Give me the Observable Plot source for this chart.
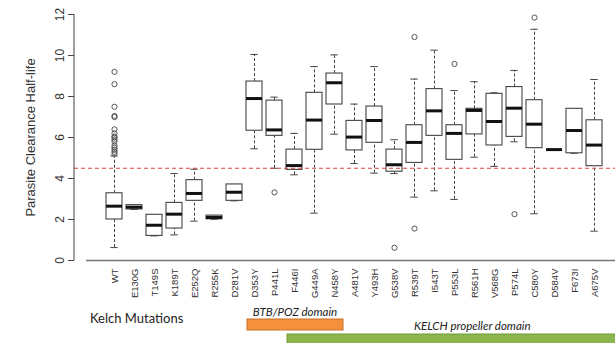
<!DOCTYPE html>
<html><head><meta charset="utf-8">
<script src="https://cdn.jsdelivr.net/npm/d3@7"></script>
<script src="https://cdn.jsdelivr.net/npm/@observablehq/plot@0.6"></script>
<style>
html,body{margin:0;padding:0;background:#fff}
#chart svg{display:block}
</style>
</head><body><div id="chart"></div>
<script>
const categories = ["WT","E130G","T149S","K189T","E252Q","R255K","D281V","D353Y","P441L","F446I","G449A","N458Y","A481V","Y493H","G538V","R539T","I543T","P553L","R561H","V568G","P574L","C580Y","D584V","F673I","A675V"];
const q1 =          [2.0, 2.49, 1.2, 1.56, 2.91, 2.01, 2.91, 6.33, 6.08, 4.42, 5.40, 7.61, 5.37, 5.74, 4.33, 4.76, 6.08, 4.91, 6.15, 5.61, 6.03, 5.48, 5.41, 5.23, 4.6];
const medians =     [2.65, 2.6, 1.72, 2.26, 3.27, 2.1, 3.33, 7.9, 6.37, 4.63, 6.85, 8.67, 6.02, 6.83, 4.67, 5.76, 7.3, 6.2, 7.32, 6.78, 7.43, 6.65, 5.41, 6.34, 5.63];
const q3 =          [3.28, 2.70, 2.23, 2.81, 3.92, 2.19, 3.71, 8.73, 7.80, 5.41, 8.18, 9.12, 6.81, 7.51, 5.41, 6.6, 8.36, 6.6, 7.4, 8.13, 8.46, 7.82, 5.41, 7.4, 6.84];
const whiskerLow =  [0.63, 2.49, 1.2, 1.25, 1.92, 2.01, 2.91, 5.45, 4.5, 4.18, 2.31, 6.16, 4.73, 4.26, 4.24, 3.09, 3.4, 2.98, 5.04, 4.59, 5.79, 2.28, 5.41, 5.23, 1.43];
const whiskerHigh = [5.1, 2.70, 2.23, 4.24, 4.45, 2.19, 3.71, 10.05, 7.97, 6.2, 9.46, 10.03, 7.63, 9.46, 5.89, 8.85, 10.26, 8.29, 8.72, 8.18, 9.27, 11.28, 5.41, 7.4, 8.83];
const outlierCategories = ["WT","WT","WT","WT","WT","WT","WT","WT","WT","WT","WT","WT","WT","WT","WT","WT","P441L","G538V","R539T","R539T","P553L","P574L","C580Y"];
const outlierValues =     [5.2, 5.3, 5.4, 5.5, 5.6, 5.8, 5.9, 6.0, 6.05, 6.2, 6.4, 7.0, 7.05, 7.5, 8.6, 9.2, 3.32, 0.62, 10.9, 1.56, 9.59, 2.26, 11.85];
const yTicks = [0, 2, 4, 6, 8, 10, 12];
const threshold = 4.5;
const yLabel = "Parasite Clearance Half-life";
const groupLabel = "Kelch Mutations";
const domainNames = ["BTB/POZ domain", "KELCH propeller domain"];
const domainFrom = ["D353Y", "F446I"];
const domainTo = ["N458Y", "A675V"];
const domainLabelAt = ["D353Y", "R539T"];

const boxes = categories.map((c, i) => ({cat: c, q1: q1[i], med: medians[i], q3: q3[i], lo: whiskerLow[i], hi: whiskerHigh[i]}));
const outliers = outlierCategories.map((c, i) => ({cat: c, value: outlierValues[i]}));

const W = 615, H = 343;
const plot = Plot.plot({
  width: W, height: H,
  marginLeft: 74, marginRight: 0, marginTop: 14, marginBottom: 83,
  style: {fontFamily: "'Liberation Sans', Arial, sans-serif", background: "#fff", color: "#333"},
  x: {domain: categories, type: "band", range: [95.6, 613.4], paddingInner: 0.2, paddingOuter: 0.1},
  y: {domain: [0, 12]},
  marks: [
    Plot.ruleX(boxes, {x: "cat", y1: "q3", y2: "hi", stroke: "#444", strokeDasharray: "3,2", strokeWidth: 1}),
    Plot.ruleX(boxes, {x: "cat", y1: "lo", y2: "q1", stroke: "#444", strokeDasharray: "3,2", strokeWidth: 1}),
    Plot.tickY(boxes, {x: "cat", y: "hi", stroke: "#444", strokeWidth: 1, insetLeft: 4.3, insetRight: 4.3}),
    Plot.tickY(boxes, {x: "cat", y: "lo", stroke: "#444", strokeWidth: 1, insetLeft: 4.3, insetRight: 4.3}),
    Plot.barY(boxes, {x: "cat", y1: "q1", y2: "q3", fill: "white", stroke: "#444", strokeWidth: 1.1}),
    Plot.tickY(boxes, {x: "cat", y: "med", stroke: "#111", strokeWidth: 3}),
    Plot.dot(outliers, {x: "cat", y: "value", r: 2.6, stroke: "#555", fill: "none", strokeWidth: 1}),
    Plot.ruleY([threshold], {stroke: "#e0443f", strokeDasharray: "4,3", strokeWidth: 1.2}),
    Plot.ruleY([0], {stroke: "#777", strokeWidth: 1.3, insetLeft: 12}),
    Plot.axisY(yTicks, {anchor: "left", tickSize: 6, tickPadding: 5, tickRotate: -90, fontSize: 12, label: null, stroke: "#444"}),
    Plot.axisX({anchor: "bottom", tickSize: 0, tickPadding: 8, tickRotate: -90, fontSize: 9.5, label: null}),
    Plot.text([yLabel], {frameAnchor: "left", dx: -44, rotate: -90, textAnchor: "middle", fontSize: 13, fill: "#333"})
  ]
});

const svg = d3.select(plot);
const xs = plot.scale("x");
const ys = plot.scale("y");
const left = 74;
// y axis line
svg.append("line")
  .attr("x1", left).attr("x2", left)
  .attr("y1", ys.apply(yTicks[0])).attr("y2", ys.apply(yTicks[yTicks.length - 1]))
  .attr("stroke", "#444").attr("stroke-width", 1);

const ann = svg.append("g").attr("font-family", "Lato, 'Open Sans', sans-serif").attr("text-anchor", "start");
ann.append("text").attr("x", xs.apply(categories[0]) - 16).attr("y", 323)
  .attr("font-size", 13).attr("fill", "#222").text(groupLabel);

const colors = [{fill: "#f5913d", stroke: "#c8702a"}, {fill: "#8db54e", stroke: "#6f9a36"}];
const rectY = [319, 334];
const textY = [316, 330];
domainNames.forEach((name, i) => {
  const x1 = xs.apply(domainFrom[i]) + 1;
  const x2 = i === domainNames.length - 1 ? W + 2 : xs.apply(domainTo[i]) + xs.bandwidth + 1;
  ann.append("rect").attr("x", x1).attr("y", rectY[i]).attr("width", x2 - x1).attr("height", 11)
    .attr("fill", colors[i].fill).attr("stroke", colors[i].stroke).attr("stroke-width", 1);
  const tx = i === 0 ? (x1 + x2) / 2 : xs.apply(domainLabelAt[i]) + xs.bandwidth / 2;
  ann.append("text").attr("x", tx).attr("y", textY[i])
    .attr("text-anchor", i === 0 ? "middle" : "start")
    .attr("font-size", 11.5).attr("font-style", "italic").attr("fill", "#222").text(name);
});

document.getElementById("chart").appendChild(plot);
</script>
</body></html>
